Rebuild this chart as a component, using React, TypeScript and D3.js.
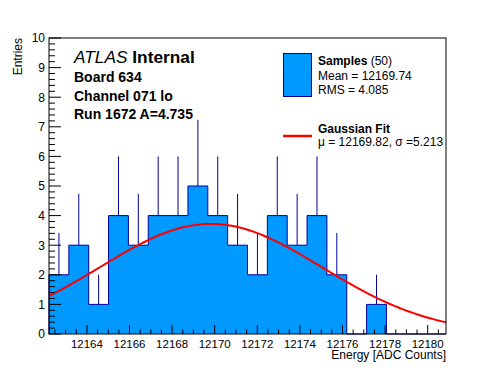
import React from 'react';
import * as d3 from 'd3';

// histogram contents, 20 equal bins over the axis range
const binCounts = [2, 3, 1, 4, 3, 4, 4, 5, 4, 3, 2, 4, 3, 4, 2, 0, 1, 0, 0, 0];
const xRange: [number, number] = [12162.22, 12180.86];
const xMajorTicks = [12164, 12166, 12168, 12170, 12172, 12174, 12176, 12178, 12180];
const yMajorTicks = [0, 1, 2, 3, 4, 5, 6, 7, 8, 9, 10];

// gaussian fit parameters (from the legend, amplitude)
const fitMean = 12169.82;
const fitSigma = 5.213;
const fitAmp = 3.72;

const headerLines = ['Board 634', 'Channel 071 lo', 'Run 1672 A=4.735'];

const width = 496;
const height = 372;
const margin = { top: 38, right: 50, bottom: 38, left: 49 };
const font = '"Liberation Sans", Arial, Helvetica, sans-serif';

const fillColor = '#0099ff';
const lineColor = '#000099';

const App: React.FC = () => {
    const x = d3.scaleLinear().domain(xRange).range([margin.left, width - margin.right]);
    const y = d3.scaleLinear().domain([0, 10]).range([height - margin.bottom, margin.top]);

    const binWidth = (xRange[1] - xRange[0]) / binCounts.length;
    const bins = binCounts.map((c, i) => ({
        x0: xRange[0] + i * binWidth,
        x1: xRange[0] + (i + 1) * binWidth,
        count: c,
    }));

    // step outline of the histogram
    let outline = `M${x(bins[0].x0)},${y(0)}`;
    bins.forEach(b => {
        outline += `L${x(b.x0)},${y(b.count)}L${x(b.x1)},${y(b.count)}`;
    });
    outline += `L${x(xRange[1])},${y(0)}`;

    const gauss = (v: number) => fitAmp * Math.exp(-((v - fitMean) ** 2) / (2 * fitSigma * fitSigma));
    const fitPts = d3.range(0, 101).map(i => xRange[0] + (i / 100) * (xRange[1] - xRange[0]));
    const fitLine = d3.line<number>().x(v => x(v)).y(v => y(gauss(v)))(fitPts) || '';

    const xMinor = d3.range(Math.ceil(xRange[0] * 2) / 2, xRange[1], 0.5).filter(v => v % 2 !== 0);
    const yMinor = d3.range(0, 10.001, 0.2).filter(v => Math.abs(v - Math.round(v)) > 0.01);

    const x0 = margin.left;
    const x1 = width - margin.right;
    const yB = height - margin.bottom;
    const yT = margin.top;

    return (
        <div style={{ position: 'fixed', left: 0, top: 0 }}>
            <svg width={width} height={height} style={{ display: 'block', background: '#fff' }} fontFamily={font}>
                {/* histogram */}
                <path d={outline + 'Z'} fill={fillColor} stroke="none" />
                <path d={outline} fill="none" stroke={lineColor} strokeWidth={1} />
                {bins.filter(b => b.count > 0).map((b, i) => (
                    <line key={i}
                        x1={x((b.x0 + b.x1) / 2)} x2={x((b.x0 + b.x1) / 2)}
                        y1={y(b.count)} y2={y(b.count + Math.sqrt(b.count))}
                        stroke={lineColor} strokeWidth={1} />
                ))}
                {/* fit */}
                <path d={fitLine} fill="none" stroke="#ff0000" strokeWidth={2} />

                {/* frame */}
                <rect x={x0} y={yT} width={x1 - x0} height={yB - yT} fill="none" stroke="#000" strokeWidth={1} />

                {/* x axis ticks */}
                {xMajorTicks.map(t => (
                    <g key={t}>
                        <line x1={x(t)} x2={x(t)} y1={yB} y2={yB - 9} stroke="#000" />
                        <text x={x(t)} y={yB + 13.5} fontSize={11.5} textAnchor="middle">{t}</text>
                    </g>
                ))}
                {xMinor.map(t => (
                    <line key={t} x1={x(t)} x2={x(t)} y1={yB} y2={yB - 4.5} stroke="#000" />
                ))}
                <text x={x1} y={yB + 25} fontSize={12} textAnchor="end">Energy [ADC Counts]</text>

                {/* y axis ticks */}
                {yMajorTicks.map(t => (
                    <g key={t}>
                        <line x1={x0} x2={x0 + 12} y1={y(t)} y2={y(t)} stroke="#000" />
                        <text x={x0 - 4} y={y(t) + 4.3} fontSize={12} textAnchor="end">{t}</text>
                    </g>
                ))}
                {yMinor.map(t => (
                    <line key={t} x1={x0} x2={x0 + 6} y1={y(t)} y2={y(t)} stroke="#000" />
                ))}
                <text transform={`translate(22,${yT}) rotate(-90)`} fontSize={12} textAnchor="end">Entries</text>

                {/* ATLAS label */}
                <text x={74} y={63} fontSize={17.3}>
                    <tspan fontStyle="italic">ATLAS</tspan>
                    <tspan fontWeight="bold"> Internal</tspan>
                </text>
                {headerLines.map((l, i) => (
                    <text key={l} x={74} y={82 + i * 18.7} fontSize={14} fontWeight="bold">{l}</text>
                ))}

                {/* legend */}
                <rect x={283.5} y={53.5} width={28} height={43} fill={fillColor} stroke={lineColor} strokeWidth={1} />
                <text x={318} y={65} fontSize={12}>
                    <tspan fontWeight="bold">Samples</tspan>
                    <tspan> (50)</tspan>
                </text>
                <text x={318} y={80} fontSize={12}>Mean = 12169.74</text>
                <text x={318} y={93.5} fontSize={12}>RMS = 4.085</text>
                <line x1={283} x2={312} y1={136} y2={136} stroke="#ff0000" strokeWidth={2.5} />
                <text x={318} y={132.5} fontSize={12} fontWeight="bold">Gaussian Fit</text>
                <text x={318} y={145.5} fontSize={12}>μ = 12169.82, σ =5.213</text>
            </svg>
        </div>
    );
};

export default App;
